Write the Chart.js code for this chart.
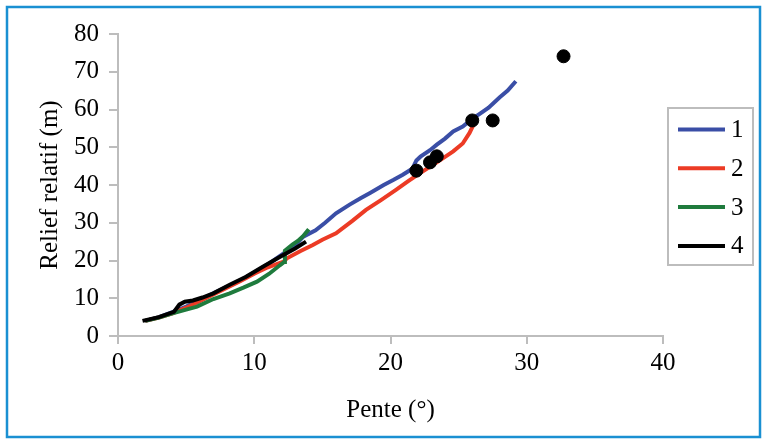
<!DOCTYPE html>
<html>
<head>
<meta charset="utf-8">
<script src="https://cdn.jsdelivr.net/npm/chart.js@4/dist/chart.umd.min.js"></script>
<style>
    html, body { margin: 0; padding: 0; background: #fff; }
    #wrap { width: 767px; height: 439px; }
</style>
</head>
<body>
<div id="wrap"><canvas id="reliefChart" width="767" height="439"></canvas></div>
<script>
// Series values (pente in degrees, relief in m)
const seriesNames = ['1', '2', '3', '4'];

const pente1  = [2, 3, 4, 5, 6, 7, 8, 9, 10, 11, 12, 13, 13.6, 14.5, 15.2, 16, 17, 17.8, 18.5, 19.5, 20.2, 20.9, 21.6, 21.9, 22.2, 22.9, 23.4, 24, 24.6, 25.3, 26, 26.6, 27.2, 28, 28.6, 29.2];
const relief1 = [4, 5, 6.3, 7.8, 9.5, 11.3, 13, 14.8, 16.8, 19, 21.5, 24, 26.3, 28, 30, 32.5, 34.8, 36.5, 37.9, 40, 41.3, 42.7, 44.3, 46.5, 47.5, 49.2, 50.7, 52.3, 54.2, 55.5, 57.5, 59, 60.5, 63.2, 65, 67.5];

const pente2  = [2, 3, 4, 5, 6, 7, 8, 9, 10, 11, 12.2, 12.4, 13.4, 14.3, 15, 16, 17.2, 18.2, 19.3, 20.4, 21.3, 22.2, 23.4, 24.6, 25.3, 25.8, 26.2];
const relief2 = [4, 4.9, 6, 7.5, 9.2, 11, 12.8, 14.6, 16.5, 18.2, 19.8, 20.6, 22.5, 24.1, 25.5, 27.2, 30.5, 33.4, 36, 38.7, 41, 43.2, 46, 48.9, 51, 53.8, 56.8];

const pente3  = [2, 3, 4, 5, 5.8, 7, 8.2, 9.2, 10.2, 11.1, 11.9, 12.2, 12.25, 12.8, 13.2, 13.6, 14];
const relief3 = [4, 4.9, 6, 7, 7.8, 9.8, 11.3, 12.8, 14.4, 16.5, 18.8, 19.6, 22.6, 24.2, 25.2, 26.5, 28.3];

const pente4  = [1.8, 3, 4.1, 4.5, 4.9, 5.5, 6.2, 7, 8.2, 9.4, 10.6, 11.9, 13, 13.8];
const relief4 = [4, 5, 6.4, 8.3, 9.1, 9.4, 10.2, 11.3, 13.6, 15.7, 18.3, 21, 23.2, 25];

// Black dots (observed points)
const penteObs  = [21.9, 22.9, 23.4, 26, 27.5, 32.7];
const reliefObs = [43.8, 46, 47.6, 57.1, 57.1, 74.1];

// Axis ticks
const xTicks = [0, 10, 20, 30, 40];
const yTicks = [0, 10, 20, 30, 40, 50, 60, 70, 80];

const lineColors = ['#3a4ea6', '#ec3b25', '#1f7b3d', '#000000'];

function toPoints(xs, ys) {
    return xs.map(function(x, i) { return { x: x, y: ys[i] }; });
}

const serif = "'Liberation Serif', 'DejaVu Serif', serif";
const axisGray = '#bdbdbd';

// White background and blue frame
const framePlugin = {
    id: 'frame',
    beforeDraw: function(chart) {
        const c = chart.ctx;
        c.save();
        c.fillStyle = '#ffffff';
        c.fillRect(0, 0, chart.width, chart.height);
        c.strokeStyle = '#1a90d2';
        c.lineWidth = 2.5;
        c.strokeRect(7, 7, chart.width - 14, chart.height - 9);
        c.restore();
    }
};

// Boxed legend on the right, drawn by hand
const boxLegend = {
    id: 'boxLegend',
    afterDraw: function(chart) {
        const c = chart.ctx;
        c.save();
        c.strokeStyle = axisGray;
        c.lineWidth = 2;
        c.strokeRect(668, 108, 85, 157);
        c.font = '25px ' + serif;
        c.fillStyle = '#000';
        c.textBaseline = 'middle';
        seriesNames.forEach(function(name, i) {
            const y = 129.5 + i * 38.8;
            c.strokeStyle = lineColors[i];
            c.lineWidth = 4;
            c.beginPath();
            c.moveTo(678, y);
            c.lineTo(725, y);
            c.stroke();
            c.fillText(name, 731, y + 1);
        });
        c.restore();
    }
};

const datasets = [{
    type: 'scatter',
    label: 'obs',
    data: toPoints(penteObs, reliefObs),
    backgroundColor: '#000',
    borderColor: '#000',
    pointRadius: 6.5,
    order: 0
}];

const allX = [pente1, pente2, pente3, pente4];
const allY = [relief1, relief2, relief3, relief4];
seriesNames.forEach(function(name, i) {
    datasets.push({
        type: 'line',
        label: name,
        data: toPoints(allX[i], allY[i]),
        borderColor: lineColors[i],
        backgroundColor: lineColors[i],
        borderWidth: 4,
        pointRadius: 0,
        tension: 0,
        fill: false,
        order: 4 - i
    });
});

new Chart(document.getElementById('reliefChart').getContext('2d'), {
    data: { datasets: datasets },
    options: {
        responsive: false,
        animation: false,
        events: [],
        layout: {
            padding: { left: 28, right: 104, top: 34, bottom: 14 }
        },
        plugins: {
            legend: { display: false },
            tooltip: { enabled: false }
        },
        scales: {
            x: {
                type: 'linear',
                min: 0,
                max: 40,
                afterBuildTicks: function(scale) {
                    scale.ticks = xTicks.map(function(v) { return { value: v }; });
                },
                afterFit: function(scale) { scale.height = 89; },
                border: { color: axisGray, width: 2 },
                grid: { drawOnChartArea: false, color: axisGray, lineWidth: 2, tickLength: 8 },
                ticks: { color: '#000', font: { family: serif, size: 25 }, padding: 4, maxRotation: 0 },
                title: {
                    display: true,
                    text: 'Pente (°)',
                    color: '#000',
                    font: { family: serif, size: 25 },
                    padding: 0
                }
            },
            y: {
                type: 'linear',
                min: 0,
                max: 80,
                afterBuildTicks: function(scale) {
                    scale.ticks = yTicks.map(function(v) { return { value: v }; });
                },
                afterFit: function(scale) { scale.width = 90; },
                border: { color: axisGray, width: 2 },
                grid: { drawOnChartArea: false, color: axisGray, lineWidth: 2, tickLength: 9 },
                ticks: { color: '#000', font: { family: serif, size: 25 }, padding: 10 },
                title: {
                    display: true,
                    text: 'Relief relatif (m)',
                    color: '#000',
                    font: { family: serif, size: 25 },
                    padding: { top: 7, bottom: 0 }
                }
            }
        }
    },
    plugins: [framePlugin, boxLegend]
});
</script>
</body>
</html>
